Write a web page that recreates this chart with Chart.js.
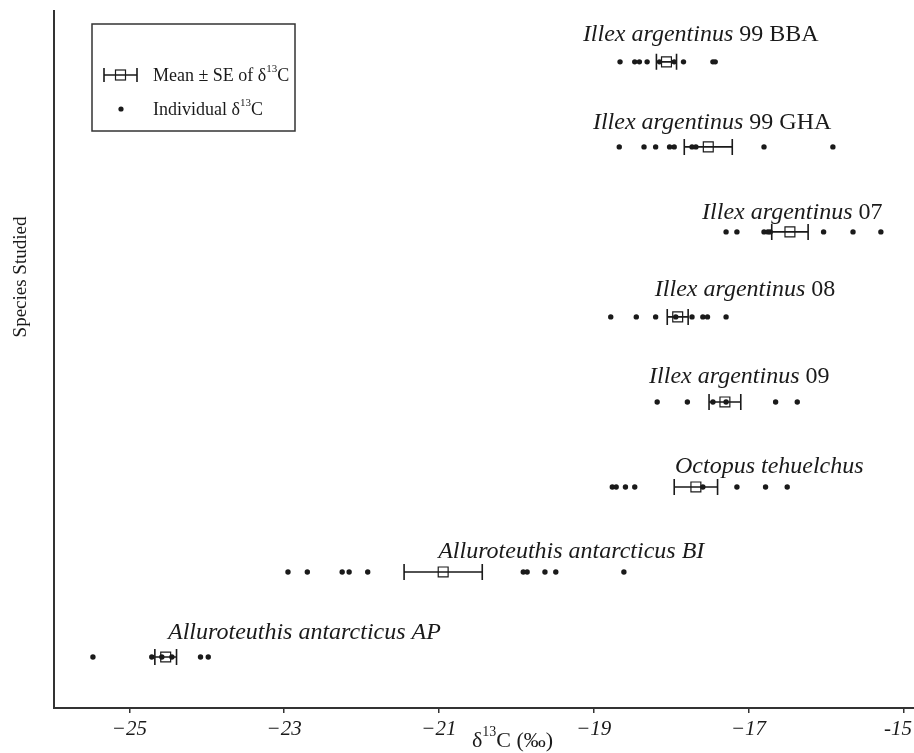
<!DOCTYPE html>
<html lang="en">
<head>
  <meta charset="UTF-8" />
  <title>Species δ13C</title>
  <script src="https://cdn.jsdelivr.net/npm/chart.js"></script>
  <style>
    body { margin: 0; background: #fff; }
    #wrap { width: 914px; height: 753px; position: relative; }
  </style>
</head>
<body>
  <div id="wrap"><canvas id="myChart"></canvas></div>

  <script>
    // species, top to bottom
    const speciesItalic = ['Illex argentinus', 'Illex argentinus', 'Illex argentinus', 'Illex argentinus',
      'Illex argentinus', 'Octopus tehuelchus', 'Alluroteuthis antarcticus BI', 'Alluroteuthis antarcticus AP'];
    const speciesSuffix = [' 99 BBA', ' 99 GHA', ' 07', ' 08', ' 09', '', '', ''];

    // individual d13C values per species
    const bba = [-18.66, -18.47, -18.41, -18.31, -18.15, -17.96, -17.84, -17.46, -17.43];
    const gha = [-18.67, -18.35, -18.20, -18.02, -17.96, -17.73, -17.68, -16.80, -15.91];
    const ia07 = [-17.29, -17.15, -16.80, -16.75, -16.72, -16.03, -15.65, -15.29];
    const ia08 = [-18.78, -18.45, -18.20, -17.94, -17.73, -17.59, -17.53, -17.29];
    const ia09 = [-18.18, -17.79, -17.46, -17.29, -16.65, -16.37];
    const octo = [-18.76, -18.71, -18.59, -18.47, -17.59, -17.15, -16.78, -16.50];
    const alluBI = [-22.95, -22.70, -22.25, -22.16, -21.92, -19.91, -19.86, -19.63, -19.49, -18.61];
    const alluAP = [-25.47, -24.71, -24.58, -24.45, -24.08, -23.98];
    const individuals = [bba, gha, ia07, ia08, ia09, octo, alluBI, alluAP];

    // mean and SE per species
    const means = [-18.06, -17.52, -16.465, -17.915, -17.305, -17.68, -20.945, -24.53];
    const se = [0.13, 0.31, 0.235, 0.135, 0.205, 0.28, 0.505, 0.14];

    const tickValues = [-25, -23, -21, -19, -17, -15];
    const tickLabels = ['\u221225', '\u221223', '\u221221', '\u221219', '\u221217', '-15'];

    const n = speciesItalic.length;
    const rowY = i => n - 1 - i;

    const dotPoints = [];
    individuals.forEach((arr, i) => arr.forEach(v => dotPoints.push({ x: v, y: rowY(i) })));
    const meanPoints = means.map((m, i) => ({ x: m, y: rowY(i), se: se[i] }));

    const INK = '#1a1a1a';
    const SERIF = '"Liberation Serif", "DejaVu Serif", serif';

    // label placement: left edge (x units) and lift above the row (px)
    const labelPlace = [
      { x: -19.14, dy: 27 }, { x: -19.01, dy: 24 }, { x: -17.60, dy: 19 }, { x: -18.21, dy: 27 },
      { x: -18.285, dy: 25 }, { x: -17.95, dy: 20 }, { x: -21.01, dy: 20 }, { x: -24.50, dy: 24 }
    ];

    // text with superscript helper: parts = [[text, isSup]]
    function drawRich(ctx, x, y, parts, size) {
      let cx = x;
      parts.forEach(([t, sup]) => {
        ctx.font = (sup ? Math.round(size * 0.62) : size) + 'px ' + SERIF;
        ctx.fillText(t, cx, sup ? y - size * 0.38 : y);
        cx += ctx.measureText(t).width;
      });
      return cx;
    }

    const decorPlugin = {
      id: 'decor',
      afterDatasetsDraw(chart) {
        const ctx = chart.ctx;
        const xs = chart.scales.x, ys = chart.scales.y;
        const area = chart.chartArea;
        ctx.save();
        ctx.strokeStyle = INK;
        ctx.fillStyle = INK;

        // error bars
        ctx.lineWidth = 1.6;
        meanPoints.forEach(p => {
          const y = ys.getPixelForValue(p.y);
          const x1 = xs.getPixelForValue(p.x - p.se);
          const x2 = xs.getPixelForValue(p.x + p.se);
          ctx.beginPath();
          ctx.moveTo(x1, y); ctx.lineTo(x2, y);
          ctx.moveTo(x1, y - 8); ctx.lineTo(x1, y + 8);
          ctx.moveTo(x2, y - 8); ctx.lineTo(x2, y + 8);
          ctx.stroke();
        });

        // species labels
        ctx.textBaseline = 'middle';
        ctx.textAlign = 'left';
        speciesItalic.forEach((it, i) => {
          const x = xs.getPixelForValue(labelPlace[i].x);
          const y = ys.getPixelForValue(rowY(i)) - labelPlace[i].dy;
          ctx.font = 'italic 24px ' + SERIF;
          ctx.fillText(it, x, y);
          const w = ctx.measureText(it).width;
          if (speciesSuffix[i]) {
            ctx.font = '24px ' + SERIF;
            ctx.fillText(speciesSuffix[i], x + w, y);
          }
        });

        // x tick labels, kept inside the canvas
        ctx.textAlign = 'center';
        ctx.font = 'italic 21px ' + SERIF;
        tickValues.forEach((v, i) => {
          const half = ctx.measureText(tickLabels[i]).width / 2;
          const x = Math.min(xs.getPixelForValue(v), chart.width - 2 - half);
          ctx.fillText(tickLabels[i], x, 729);
        });
        ctx.textAlign = 'left';

        // left spine, and bottom axis carried to the right edge
        ctx.lineWidth = 2;
        ctx.strokeStyle = '#333';
        ctx.beginPath();
        ctx.moveTo(area.left, area.top);
        ctx.lineTo(area.left, area.bottom + 1);
        ctx.moveTo(area.right - 1, area.bottom);
        ctx.lineTo(chart.width, area.bottom);
        ctx.stroke();

        // legend
        ctx.lineWidth = 1.5;
        ctx.strokeRect(92, 24, 203, 107);
        ctx.strokeStyle = INK;
        ctx.lineWidth = 1.6;
        ctx.beginPath();
        ctx.moveTo(104, 75); ctx.lineTo(137, 75);
        ctx.moveTo(104, 68); ctx.lineTo(104, 82);
        ctx.moveTo(137, 68); ctx.lineTo(137, 82);
        ctx.stroke();
        ctx.lineWidth = 1.2;
        ctx.strokeRect(115.5, 70, 10, 10);
        ctx.beginPath();
        ctx.arc(121, 109, 2.6, 0, Math.PI * 2);
        ctx.fill();
        drawRich(ctx, 153, 76, [['Mean \u00b1 SE of \u03b4', false], ['13', true], ['C', false]], 18);
        drawRich(ctx, 153, 110, [['Individual \u03b4', false], ['13', true], ['C', false]], 18);

        // axis titles
        drawRich(ctx, 472, 741, [['\u03b4', false], ['13', true], ['C (\u2030)', false]], 22);
        ctx.translate(21, 277);
        ctx.rotate(-Math.PI / 2);
        ctx.textAlign = 'center';
        ctx.font = '19px ' + SERIF;
        ctx.fillText('Species Studied', 0, 0);
        ctx.restore();
      }
    };

    new Chart(document.getElementById('myChart'), {
      type: 'scatter',
      data: {
        datasets: [
          {
            label: 'Individual \u03b413C',
            data: dotPoints,
            pointRadius: 2.7,
            pointHoverRadius: 2.7,
            backgroundColor: INK,
            borderColor: INK,
            borderWidth: 0
          },
          {
            label: 'Mean \u00b1 SE of \u03b413C',
            data: meanPoints,
            pointStyle: 'rect',
            pointRadius: 7,
            pointHoverRadius: 7,
            backgroundColor: 'rgba(0,0,0,0)',
            borderColor: INK,
            borderWidth: 1.2
          }
        ]
      },
      options: {
        responsive: true,
        maintainAspectRatio: false,
        animation: false,
        layout: { padding: { left: 54, top: 10, right: 0, bottom: 0 } },
        plugins: {
          legend: { display: false },
          tooltip: { enabled: false }
        },
        scales: {
          x: {
            type: 'linear',
            min: -25.973,
            max: -14.968,
            afterBuildTicks: scale => { scale.ticks = tickValues.map(v => ({ value: v })); },
            afterFit: scale => { scale.height = 45; },
            grid: { display: true, drawOnChartArea: false, drawTicks: true, tickLength: 5, color: '#333', lineWidth: 1.5 },
            border: { display: true, color: '#333', width: 2 },
            ticks: { display: false }
          },
          y: {
            type: 'linear',
            display: false,
            min: -0.6,
            max: 7.61
          }
        }
      },
      plugins: [decorPlugin]
    });
  </script>
</body>
</html>
